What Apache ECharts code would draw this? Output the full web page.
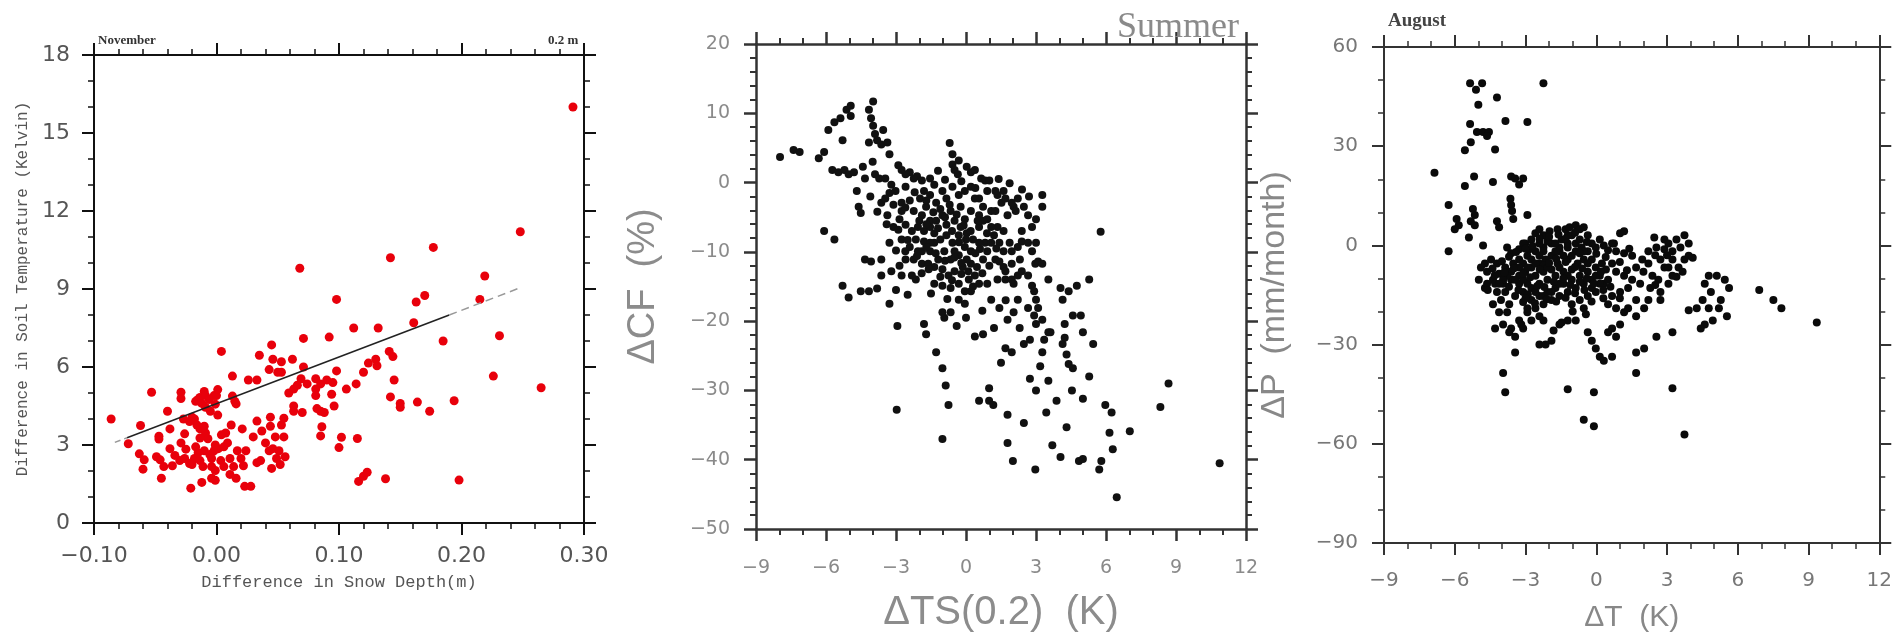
<!DOCTYPE html>
<html><head><meta charset="utf-8">
<script src="https://cdn.jsdelivr.net/npm/echarts@6/dist/echarts.min.js"></script>
<style>html,body{margin:0;padding:0;background:#fff}#c{width:1895px;height:638px}</style>
</head><body><div id="c"></div>
<script>
// Panel 1: November, snow depth difference (m) vs soil temperature difference (K)
const snowSoilPoints = [
[0.291,16.0],[0.248,11.2],[0.177,10.6],[0.142,10.2],[0.068,9.8],[0.219,9.5],[0.098,8.6],[0.215,8.6],[0.170,8.75],[0.163,8.5],
[0.161,7.7],[0.112,7.5],[0.132,7.5],[0.071,7.1],[0.092,7.15],[0.231,7.2],[0.185,7.0],[0.004,6.6],[0.045,6.85],[0.035,6.45],
[0.046,6.3],[0.053,6.2],[0.062,6.3],[0.043,5.9],[0.050,5.8],[0.053,5.8],[0.071,6.0],[0.098,5.85],[0.120,5.8],[0.124,6.15],
[0.130,6.3],[0.131,6.05],[0.141,6.6],[0.144,6.4],[0.226,5.65],[0.265,5.2],[0.013,5.65],[0.026,5.5],[0.033,5.5],[0.069,5.55],
[0.059,5.0],[0.063,5.15],[0.066,5.3],[0.074,5.35],[0.081,5.55],[0.085,5.35],[0.090,5.5],[0.095,5.4],[0.106,5.15],[0.114,5.35],
[0.145,5.5],[0.081,5.15],[0.081,4.9],[0.094,4.95],[0.096,4.5],[0.082,4.4],[0.085,4.3],[0.088,4.25],[0.063,4.5],[0.063,4.3],
[0.070,4.25],[0.142,4.85],[0.150,4.6],[0.150,4.45],[0.164,4.65],[0.174,4.3],[0.194,4.7],[0.086,3.7],[0.085,3.35],[0.102,3.3],
[0.100,2.9],[0.115,3.25],[0.116,1.6],[0.120,1.8],[0.123,1.95],[0.138,1.7],[0.198,1.65],
[-0.086,4.0],[-0.072,3.05],[-0.062,3.75],[-0.063,2.66],[-0.059,2.43],[-0.060,2.07],[-0.053,5.03],[-0.047,3.34],[-0.049,2.55],[-0.046,2.43],
[-0.045,1.72],[-0.043,2.17],[-0.040,4.30],[-0.038,3.62],[-0.038,2.86],[-0.036,2.20],[-0.029,5.03],[-0.029,4.79],[-0.027,4.0],[-0.029,3.08],
[-0.026,3.43],[-0.030,2.40],[-0.026,2.48],[-0.025,2.84],[-0.022,2.29],[-0.021,1.34],[-0.020,4.07],[-0.017,4.68],[-0.015,4.75],[-0.0135,4.83],
[-0.012,4.6],[-0.010,5.06],[-0.009,4.9],[-0.009,4.45],[-0.006,4.75],[-0.002,4.9],[0.000,4.9],[-0.001,4.57],[0.001,4.15],[-0.018,4.0],
[-0.016,3.77],[-0.0135,3.62],[-0.010,3.72],[-0.009,3.46],[-0.007,3.24],[-0.0135,3.27],[-0.010,2.78],[-0.015,2.70],[-0.017,2.93],[-0.018,2.48],
[-0.020,2.25],[-0.0135,2.40],[-0.011,2.17],[-0.0055,2.63],[-0.004,2.48],[-0.002,2.78],[-0.001,3.0],[0.0015,2.86],[-0.004,2.17],[-0.001,2.02],
[-0.004,1.72],[-0.012,1.56],[-0.001,1.64],[0.0035,2.40],[0.006,2.17],[0.0075,3.46],[0.004,3.39],[0.009,3.08],[0.006,2.93],[0.012,3.77],
[0.011,2.48],[0.014,2.17],[0.011,1.87],[0.016,1.72],[0.015,4.68],[0.013,4.88],[0.017,2.78],[0.021,3.62],[0.020,2.48],[0.022,2.20],
[0.023,1.41],[0.028,1.41],[0.024,2.78],[0.030,3.31],[0.033,3.92],[0.033,2.32],[0.036,2.40],[0.037,3.54],[0.040,3.08],[0.043,2.78],
[0.044,4.07],[0.044,3.72],[0.046,2.86],[0.045,2.10],[0.048,3.31],[0.049,2.48],[0.051,2.78],[0.052,2.25],[0.053,3.77],[0.055,4.03],
[0.055,3.31],[0.056,2.55],[0.001,5.13],[0.016,4.58],[-0.047,3.23],[-0.034,2.6],[-0.005,4.3],[-0.022,3.9]
];
// regression line (solid part and dashed ends)
const fitSolid = [[-0.073,3.28],[0.19,8.0]];
const fitDashLeft = [[-0.083,3.1],[-0.073,3.28]];
const fitDashRight = [[0.19,8.0],[0.248,9.05]];

// Panel 2: Summer, ΔTS(0.2) (K) vs ΔCF (%)
const tsCfPoints = [
[-7.97,3.7],[-7.39,4.7],[-7.13,4.4],[-6.31,3.5],[-6.08,4.4],[-5.90,7.6],[-5.64,8.7],[-5.38,9.3],[-5.12,10.5],[-4.94,11.1],
[-4.94,9.6],[-5.29,6.1],[-5.73,1.8],[-5.47,1.5],[-5.21,1.8],[-5.03,1.2],[-4.80,1.5],[-4.68,-1.2],[-4.60,-3.5],[-4.51,-4.4],
[-6.08,-7.0],[-5.64,-8.2],[-5.29,-14.9],[-5.03,-16.6],[-4.51,-15.7],[-4.16,-15.7],[-3.81,-15.3],[-4.33,-11.1],[-4.07,-11.4],[-3.98,11.7],
[-4.16,10.5],[-4.07,9.3],[-3.98,8.2],[-3.90,7.0],[-3.81,6.1],[-3.55,7.6],[-3.63,5.5],[-3.37,5.8],[-3.28,4.1],[-4.16,5.8],
[-3.90,1.2],[-3.72,0.6],[-3.28,-1.5],[-3.63,-2.9],[-3.37,-4.7],[-3.11,-6.4],[-3.28,-8.7],[-3.63,-11.1],[-3.63,-13.4],[-3.20,-12.8],
[-3.28,-17.5],[-2.94,-20.7],[-2.97,-32.8],[-2.76,1.8],[-2.41,1.5],[-2.59,-0.6],[-2.76,-2.9],[-2.41,-2.6],[-2.24,-4.1],[-2.85,-5.3],
[-2.59,-6.1],[-2.32,-7.0],[-2.76,-8.2],[-2.85,-12.0],[-2.76,-13.4],[-2.32,-13.4],[-2.15,-14.0],[-1.80,-20.4],[-1.71,-21.9],[-2.10,0.9],
[-1.89,0.3],[-1.80,-1.2],[-1.97,-2.3],[-1.89,-4.7],[-1.71,-3.5],[-1.54,-5.5],[-2.06,-6.4],[-1.80,-8.5],[-2.06,-9.9],[-1.54,-9.9],
[-1.89,-11.7],[-1.36,-8.7],[-1.28,-24.5],[-1.01,-26.8],[-0.87,-29.3],[-0.75,-32.1],[-1.01,-37.0],[-0.93,-19.5],[-1.01,-18.7],[-0.66,-18.7],
[-0.40,-20.7],[-0.70,5.7],[-0.58,2.6],[-0.49,1.8],[-0.35,1.2],[0.21,1.5],[0.65,0.6],[1.87,-0.1],[-0.31,-16.9],[-0.05,-17.5],
[0.21,-15.7],[0.38,-22.2],[0.73,-21.9],[0.56,-31.5],[0.99,-29.7],[0.99,-31.5],[1.17,-32.1],[1.78,-33.5],[1.78,-37.6],[2.01,-40.2],
[2.48,-34.7],[2.97,-41.4],[2.74,-28.3],[3.00,-30.0],[3.18,-26.5],[3.53,-28.6],[3.44,-33.2],[3.88,-31.5],[3.70,-37.9],[4.05,-39.6],
[4.31,-35.3],[4.84,-40.2],[5.01,-39.9],[4.54,-30.0],[5.01,-31.2],[5.28,-28.0],[5.71,-41.4],[5.80,-40.2],[5.97,-32.1],[6.24,-33.2],
[6.15,-36.1],[6.29,-38.5],[6.46,-45.4],[7.02,-35.9],[8.33,-32.4],[8.68,-29.0],[10.87,-40.5],[5.77,-7.1],[5.28,-14.0],[5.45,-23.3],
[5.01,-21.6],[4.92,-19.2],[4.58,-19.2],[4.23,-20.4],[4.14,-23.3],[4.31,-24.8],[4.40,-26.2],[4.58,-26.8],[4.23,-22.4],[4.05,-15.2],
[4.14,-16.9],[4.40,-15.7],[4.75,-14.9],[3.53,-14.0],[3.62,-21.6],[3.35,-22.7],[3.27,-24.5],[3.00,-20.4],[2.92,-19.2],[2.74,-22.7],
[2.48,-23.3],[2.66,-18.1],[3.00,-16.9],[2.83,-14.9],[2.97,-11.7],[3.00,-8.7],[3.00,-5.3],[3.27,-1.8],[3.27,-3.5],[2.39,-8.5],
[2.22,-9.3],[2.31,-11.1],[1.96,-11.7],[2.04,-14.6],[2.22,-16.9],[2.04,-18.7],[1.78,-19.8],[1.69,-23.9],[1.96,-24.5],[1.43,-18.1],
[1.08,-16.9],[0.91,-14.6],[1.35,-14.0],[1.69,-14.0],[1.61,-12.2],[1.26,-11.1],[1.78,-4.7],[2.04,-3.5],[2.22,-2.3],[1.61,-1.2],
[1.35,-1.8],[1.08,-4.1],[0.91,-1.2],[0.56,-2.3],[0.56,-6.4],[0.82,-8.7],[0.21,-9.9],[0.56,-14.6],
[-1.54,-1.8],[-1.28,-2.9],[-1.01,-1.2],[-0.84,-2.3],[-0.58,-0.6],[-0.31,-1.8],[-0.05,-1.2],[0.21,-0.6],[0.38,-2.3],[-0.23,-3.5],
[-0.66,-4.1],[-1.01,-4.7],[-1.28,-5.5],[-0.84,-6.1],[-0.49,-5.5],[-0.05,-5.3],[0.21,-4.1],[0.56,-4.7],[0.73,-5.5],[-1.36,-7.3],
[-1.10,-8.2],[-0.84,-7.6],[-0.58,-8.7],[-0.31,-7.6],[0.03,-7.3],[0.30,-8.2],[0.56,-8.7],[-0.93,-9.9],[-0.66,-11.1],[-0.31,-10.5],
[-0.05,-9.3],[0.21,-11.7],[0.47,-12.2],[0.73,-11.1],[-1.19,-11.1],[-1.36,-12.2],[-1.01,-12.5],[-0.75,-13.4],[-0.49,-12.8],[-0.14,-12.2],
[0.12,-14.0],[0.38,-13.4],[-1.80,-7.0],[-2.15,-8.2],[-2.41,-9.3],[-2.59,-11.1],[-2.24,-11.1],[-1.62,-11.7],[-1.36,-14.6],[-1.01,-14.9],
[-0.66,-15.2],[-0.31,-14.6],[-0.05,-15.7],[-1.54,-6.4],[-0.49,-9.9],[-1.54,-8.7],[-1.89,-9.9],[-0.23,-6.4],[0.03,-11.1],[0.91,-9.9],
[1.08,-8.7],[1.43,-8.7],[1.61,-7.0],[1.35,-6.4],[1.08,-6.4],[0.91,-5.3],[1.26,-4.1],[1.52,-2.9],[0.73,-3.5],
[-0.58,4.1],[-0.31,3.2],[0.03,2.3],[0.38,1.8],[0.82,0.3],[-2.59,1.2],[-2.24,0.6],[-1.54,0.6],[-1.36,-0.3],[-3.46,0.6],
[-3.20,-0.3],[-3.02,-1.2],[-3.46,-2.3],[-3.11,-3.2],[-2.76,-4.1],[-4.33,0.6],[-4.42,2.3],
[1.00,0.3],[1.26,-1.2],[1.69,-2.3],[1.96,-2.9],[2.13,-4.1],[2.48,-3.5],[2.66,-4.7],[2.83,-6.4],[2.39,-7.0],[2.66,-8.7],
[2.83,-9.9],[3.09,-11.4],[3.27,-11.7],[1.87,-8.7],[1.96,-9.9],[1.61,-9.9],[1.43,-11.4],[1.69,-12.8],[1.96,-14.0],[2.22,-13.4],
[2.39,-12.8],[2.66,-13.4],[2.92,-15.7],[3.09,-18.1],[3.27,-19.8],[3.53,-21.6],
[-2.0,-5.5],[-1.7,-6.0],[-1.2,-6.6],[-0.9,-5.0],[-0.6,-7.0],[-0.3,-8.6],[0.0,-8.2],[0.2,-7.0],[-0.1,-6.2],[-0.4,-4.6],
[-0.7,-3.2],[-1.1,-3.8],[-1.4,-4.3],[-1.7,-2.6],[-2.2,-1.4],[-2.6,-3.6],[-2.9,-6.8],[-2.5,-8.3],[-2.1,-10.6],[-1.7,-9.3],
[-1.3,-10.2],[-0.9,-11.3],[-0.5,-10.8],[-0.2,-11.6],[0.1,-12.8],[0.4,-10.2],[0.6,-9.6],[0.9,-7.3],[1.2,-7.6],[0.5,-5.5],
[-1.6,-12.5],[-1.9,-13.1],[-1.1,-13.6],[-0.6,-14.1],[-0.2,-13.2],[0.3,-15.0],[0.7,-13.1],[1.0,-12.0],[1.3,-9.5],[-3.0,-9.8],
[-2.6,-9.9],[-3.4,-6.0],[-3.8,-4.2],[-4.1,-2.0],[-4.0,3.0],[-2.9,2.5],[-1.2,1.7],[-0.9,0.4],[-0.2,0.2],[0.4,-0.8],
[1.4,0.5],[2.4,-1.0],[2.7,-2.0],[-3.0,-15.5],[-2.5,-16.2],[-1.5,-16.0],[-0.8,-16.8],[0.0,-19.5],[0.7,-18.5],[1.2,-21.0],
[1.7,-17.0],[2.3,-21.0],[1.5,-26.0]
];

// Panel 3: August, ΔT (K) vs ΔP (mm/month)
const tPrecipPoints = [
[-5.35,49.0],[-4.84,49.0],[-5.10,47.1],[-5.00,42.5],[-4.21,44.7],[-2.24,49.0],[-3.85,37.6],[-2.92,37.3],[-5.35,36.7],[-5.06,34.3],
[-4.80,34.3],[-4.55,34.3],[-4.63,33.1],[-5.32,31.2],[-5.57,28.8],[-4.29,29.0],[-6.86,22.0],[-5.18,20.8],[-4.38,19.2],[-5.57,18.0],
[-3.61,20.8],[-3.44,20.2],[-3.10,20.2],[-3.27,18.4],[-6.26,12.2],[-5.23,11.0],[-5.15,9.2],[-5.92,8.0],[-5.83,6.1],[-6.00,4.9],
[-5.32,7.3],[-5.15,6.1],[-4.21,7.3],[-4.12,5.5],[-3.64,14.1],[-3.61,12.2],[-3.57,10.4],[-3.52,8.0],[-2.92,9.2],[-5.40,2.4],
[-6.26,-1.8],[-4.80,0.0],
[-3.78,-0.6],[-3.61,-2.4],[-3.27,-1.2],[-3.01,0.6],[-2.75,1.8],[-2.58,3.7],[-2.41,4.9],[-2.24,3.1],[-1.98,4.3],[-1.64,4.9],
[-1.30,4.9],[-1.13,5.5],[-0.87,6.1],[-0.70,4.9],[-1.21,3.1],[-1.47,1.8],[-1.90,0.6],[-2.24,-0.6],[-2.58,-1.8],[-2.92,-3.1],
[-3.27,-4.3],[-3.52,-5.5],[-3.86,-6.7],[-4.21,-5.5],[-4.46,-4.3],[-4.72,-5.5],[-4.89,-6.7],[-4.63,-8.0],[-4.98,-10.4],[-4.72,-12.9],
[-4.38,-10.4],[-4.12,-8.6],[-3.95,-11.6],[-3.61,-10.4],[-3.27,-9.2],[-3.01,-8.0],[-2.75,-6.7],[-2.41,-5.5],[-2.15,-4.3],[-1.90,-3.1],
[-1.56,-1.8],[-1.21,-0.6],[-0.87,0.6],[-0.62,-0.6],[-0.36,-1.8],[-0.19,-4.3],[-0.53,-4.3],[-0.79,-5.5],[-1.04,-7.3],[-1.39,-8.0],
[-1.73,-9.2],[-2.07,-10.4],[-2.41,-11.6],[-2.75,-12.9],[-3.10,-14.1],[-3.44,-15.3],[-3.69,-17.8],[-3.78,-20.2],[-3.95,-23.9],[-3.61,-25.1],
[-3.44,-27.6],[-3.44,-32.4],[-3.27,-22.7],[-2.92,-20.2],[-2.58,-19.0],[-2.24,-17.8],[-1.90,-16.5],[-1.56,-15.3],[-1.21,-14.1],[-0.87,-12.9],
[-0.53,-11.6],[-0.19,-10.4],[0.15,-9.2],[0.41,-7.3],[0.32,-11.6],[-0.02,-14.1],[-0.36,-15.3],[-0.70,-16.5],[-1.04,-17.8],[-0.53,-19.0],
[-0.87,-22.7],[-1.21,-22.7],[-1.56,-23.9],[-2.24,-22.7],[-2.41,-30.0],[-1.90,-28.8],[-0.44,-20.8],[-0.36,-26.3],[-0.19,-28.8],[-0.02,-31.2],
[0.15,-33.7],[0.32,-34.9],[0.67,-33.7],[0.50,-26.3],[0.67,-25.1],[0.84,-27.6],[1.01,-23.9],[1.18,-20.2],[0.84,-19.0],[0.50,-17.8],
[0.67,-15.3],[1.01,-14.1],[1.35,-12.9],[1.52,-10.4],[1.18,-9.2],[0.84,-8.0],[0.67,-5.5],[0.84,-1.8],[0.75,0.6],[1.18,-2.4],
[1.52,-3.1],[1.69,-6.7],[1.86,-11.6],[1.69,-16.5],[1.35,-19.0],[1.69,-21.4],[2.03,-19.0],[2.21,-16.5],[2.29,-12.9],[2.38,-9.2],
[2.21,-5.5],[1.95,-4.3],[2.21,-1.8],[2.55,-0.6],[2.89,-1.2],[2.72,-4.3],[2.89,-6.7],[2.63,-10.4],[2.72,-14.1],[2.72,-16.5],
[3.06,-11.6],[3.23,-9.2],[3.06,-6.7],[3.23,-4.3],[3.49,-6.7],[3.66,-8.0],[3.74,-4.3],[3.92,-3.1],[3.57,-0.6],[3.23,-1.8],
[3.74,3.1],[3.92,0.6],[4.09,-3.7],[4.77,-9.2],[4.60,-11.6],[5.11,-9.2],[5.45,-10.4],[5.63,-12.9],[5.28,-16.5],[5.20,-19.0],
[5.54,-21.4],[4.94,-22.7],[4.60,-23.9],[4.43,-25.1],[4.77,-19.0],[4.51,-16.5],[4.26,-19.0],[3.92,-19.6],[4.86,-14.1],[6.91,-13.5],
[7.51,-16.5],[7.85,-19.0],[9.35,-23.3],[2.55,-27.6],[3.23,-26.3],[1.69,-32.4],[2.03,-31.2],[1.69,-38.6],[3.23,-43.2],[3.74,-57.2],
[-1.21,-43.5],[-0.10,-44.4],[-0.53,-52.7],[-0.10,-54.7],[-3.95,-38.6],[-3.86,-44.4],[-3.69,-26.3],[-3.18,-23.9],[-2.15,-30.0],[-1.81,-25.7],
[-1.47,-23.3],[-2.41,-21.4],[-2.75,-22.7],[-3.10,-25.1],[-2.92,-19.0],[-4.29,-25.1],[-4.04,-16.5],[-4.12,-20.2],[-4.21,-14.1],[-3.86,-14.1],
[-4.38,-17.8],[-4.63,-11.6],[-4.29,-11.6],[-3.27,-11.6],[-2.92,-11.6],[-2.58,-9.2],[-2.24,-8.0],[-1.90,-7.3],[-1.64,-5.5],[-1.21,-4.3],
[-0.87,-1.8],[-0.53,-1.8],[-0.02,-0.6],[0.32,0.0],[0.67,0.6],[1.01,3.7],[1.18,4.3],[0.15,1.8],[-0.19,0.6],[-0.36,3.1],
[-0.53,5.5],[-0.70,1.8],[-1.04,3.1],[-1.21,0.6],[-1.56,-0.6],[-1.73,0.6],[-2.24,-1.8],[-2.41,-3.1],[-2.75,-4.3],[-3.10,-5.5],
[-3.27,-6.7],[-3.61,-8.0],[-3.78,-9.2],[-3.95,-10.4],[-4.12,-11.6],[2.89,1.8],[3.06,0.6],[3.40,1.8],[2.46,2.4],
[-3.10,0.6],[-2.84,-1.2],[-2.41,0.6],[-2.07,1.2],[-1.73,-1.8],[-1.39,-3.1],[-1.04,-3.1],[-0.70,-2.4],[-0.36,-5.5],[-0.02,-6.7],
[0.24,-5.5],[-0.02,-9.2],[-0.36,-8.0],[-0.70,-9.2],[-1.04,-10.4],[-1.39,-11.6],[-1.73,-12.9],[-2.07,-14.1],[-2.41,-15.3],[-2.75,-16.5],
[-3.10,-17.1],[-2.24,-6.1],[-2.58,-5.5],[-2.92,-6.7],[-3.44,-10.4],[-3.10,-10.4],[-2.07,-6.7],[-1.56,-6.7],[-1.21,-9.2],[-1.56,-11.6],
[-1.90,-14.1],[-2.24,-15.3],[-2.58,-14.1],[-0.19,-12.9],[0.15,-11.6],[0.50,-10.4],
[-4.4,-7.0],[-4.0,-4.8],[-3.7,-3.4],[-3.4,-2.0],[-3.0,-1.0],[-2.7,-0.2],[-2.4,2.0],[-2.0,2.6],[-1.6,3.3],[-1.3,2.0],
[-0.9,3.8],[-0.4,1.0],[0.0,-2.5],[0.4,-3.5],[0.5,-1.5],[0.2,-8.0],[-0.6,-7.0],[-0.9,-6.5],[-1.3,-5.0],[-1.7,-4.0],
[-2.0,-5.3],[-2.4,-7.3],[-2.8,-9.6],[-3.1,-8.6],[-3.5,-7.0],[-3.9,-8.2],[-4.3,-9.0],[-4.6,-13.5],[-3.7,-12.5],[-3.3,-13.5],
[-2.9,-14.8],[-2.5,-12.3],[-2.2,-12.6],[-1.8,-11.0],[-1.4,-10.0],[-1.1,-12.0],[-0.7,-11.0],[-0.4,-10.0],[-0.1,-11.5],[0.3,-13.5],
[0.6,-12.5],[-0.5,-13.5],[-0.9,-14.5],[-1.3,-15.8],[-1.7,-17.0],[-2.1,-16.3],[-2.6,-17.5],[-3.0,-16.0],[-1.0,-20.0],[-0.2,-17.0],
[0.3,-16.0],[1.0,-16.0],[1.3,-7.5],[1.0,-5.0],[1.4,-1.0],[2.0,-8.0],[2.5,-3.0],[3.0,-3.0],[3.4,-9.5],[2.5,-12.0]
];

const minus = v => String(v).replace('-', '\u2212');

function axisPair(gi, opt) {
  const lineColor = opt.lineColor, lw = opt.lineWidth;
  const common = {
    gridIndex: gi, type: 'value', min: opt.min, max: opt.max, interval: opt.interval,
    splitLine: {show: false},
    axisLine: {show: true, onZero: false, lineStyle: {color: lineColor, width: lw}},
    axisTick: {show: true, inside: false, length: opt.tickLen, lineStyle: {color: lineColor, width: lw}},
    minorTick: {show: true, splitNumber: opt.minor, length: opt.minorLen, lineStyle: {color: lineColor, width: Math.max(1, lw - 0.5)}},
  };
  const main = Object.assign({}, common, {
    position: opt.mainPos,
    name: opt.name, nameLocation: 'middle', nameGap: opt.nameGap,
    nameTextStyle: opt.nameStyle,
    axisLabel: {show: true, margin: opt.labelMargin, color: opt.labelColor, fontSize: opt.labelSize,
      fontFamily: opt.labelFont, formatter: opt.fmt},
  });
  const twin = Object.assign({}, common, {position: opt.twinPos, axisLabel: {show: false}});
  return [main, twin];
}

const xAxes = [], yAxes = [];
// Panel 1
xAxes.push(...axisPair(0, {min: -0.1, max: 0.3, interval: 0.1, minor: 5, mainPos: 'bottom', twinPos: 'top',
  lineColor: '#111', lineWidth: 2, tickLen: 12, minorLen: 6,
  name: 'Difference in Snow Depth(m)', nameGap: 51,
  nameStyle: {color: '#555', fontSize: 17, fontFamily: 'Liberation Mono'},
  labelMargin: 22, labelColor: '#555', labelSize: 22, labelFont: 'DejaVu Sans',
  fmt: v => minus(v.toFixed(2))}));
yAxes.push(...axisPair(0, {min: 0, max: 18, interval: 3, minor: 3, mainPos: 'left', twinPos: 'right',
  lineColor: '#111', lineWidth: 2, tickLen: 12, minorLen: 6,
  name: 'Difference in Soil Temperature (Kelvin)', nameGap: 63,
  nameStyle: {color: '#555', fontSize: 16, fontFamily: 'Liberation Mono'},
  labelMargin: 24, labelColor: '#555', labelSize: 22, labelFont: 'DejaVu Sans',
  fmt: v => minus(v)}));
// Panel 2
xAxes.push(...axisPair(1, {min: -9, max: 12, interval: 3, minor: 3, mainPos: 'bottom', twinPos: 'top',
  lineColor: '#333', lineWidth: 2.5, tickLen: 12, minorLen: 6,
  name: '\u0394TS(0.2)  (K)', nameGap: 64,
  nameStyle: {color: '#8c8c8c', fontSize: 40, fontFamily: 'Liberation Sans'},
  labelMargin: 30, labelColor: '#8a8a8a', labelSize: 19, labelFont: 'DejaVu Sans',
  fmt: v => minus(v)}));
yAxes.push(...axisPair(1, {min: -50, max: 20, interval: 10, minor: 5, mainPos: 'left', twinPos: 'right',
  lineColor: '#333', lineWidth: 2.5, tickLen: 12, minorLen: 6,
  name: '\u0394CF  (%)', nameGap: 93,
  nameStyle: {color: '#8c8c8c', fontSize: 38, fontFamily: 'Liberation Sans'},
  labelMargin: 26, labelColor: '#8a8a8a', labelSize: 19, labelFont: 'DejaVu Sans',
  fmt: v => minus(v)}));
// Panel 3
xAxes.push(...axisPair(2, {min: -9, max: 12, interval: 3, minor: 3, mainPos: 'bottom', twinPos: 'top',
  lineColor: '#333', lineWidth: 2, tickLen: 12, minorLen: 6,
  name: '\u0394T  (K)', nameGap: 60,
  nameStyle: {color: '#888', fontSize: 30, fontFamily: 'Liberation Sans'},
  labelMargin: 28, labelColor: '#777', labelSize: 20, labelFont: 'DejaVu Sans',
  fmt: v => minus(v)}));
yAxes.push(...axisPair(2, {min: -90, max: 60, interval: 30, minor: 3, mainPos: 'left', twinPos: 'right',
  lineColor: '#333', lineWidth: 2, tickLen: 12, minorLen: 6,
  name: '\u0394P  (mm/month)', nameGap: 92,
  nameStyle: {color: '#888', fontSize: 34, fontFamily: 'Liberation Sans'},
  labelMargin: 26, labelColor: '#777', labelSize: 20, labelFont: 'DejaVu Sans',
  fmt: v => minus(v)}));

const chart = echarts.init(document.getElementById('c'));
chart.setOption({
  animation: false,
  backgroundColor: '#ffffff',
  grid: [
    {left: 94, top: 55, width: 490, height: 468},
    {left: 756, top: 44, width: 490, height: 490},
    {left: 1384, top: 47, width: 497, height: 496}
  ],
  title: [
    {text: 'November', left: 93, top: 29, textStyle: {fontSize: 13, fontWeight: 'bold', color: '#333', fontFamily: 'Liberation Serif'}},
    {text: '0.2 m', left: 543, top: 29, textStyle: {fontSize: 13, fontWeight: 'bold', color: '#333', fontFamily: 'Liberation Serif'}},
    {text: 'Summer', left: 1112, top: 5, textStyle: {fontSize: 36, fontWeight: 'normal', color: '#8a8a8a', fontFamily: 'Liberation Serif'}},
    {text: 'August', left: 1383, top: 7, textStyle: {fontSize: 19, fontWeight: 'bold', color: '#444', fontFamily: 'Liberation Serif'}}
  ],
  xAxis: xAxes,
  yAxis: yAxes,
  series: [
    {type: 'scatter', xAxisIndex: 0, yAxisIndex: 0, data: snowSoilPoints, symbol: 'circle', symbolSize: 9,
      itemStyle: {color: '#e8000b', opacity: 1}},
    {type: 'line', xAxisIndex: 0, yAxisIndex: 0, data: fitSolid, showSymbol: false, lineStyle: {color: '#222', width: 1.5}},
    {type: 'line', xAxisIndex: 0, yAxisIndex: 0, data: fitDashLeft, showSymbol: false, lineStyle: {color: '#999', width: 1.5, type: [6, 4]}},
    {type: 'line', xAxisIndex: 0, yAxisIndex: 0, data: fitDashRight, showSymbol: false, lineStyle: {color: '#999', width: 1.5, type: [8, 5]}},
    {type: 'scatter', xAxisIndex: 2, yAxisIndex: 2, data: tsCfPoints, symbol: 'circle', symbolSize: 8,
      itemStyle: {color: '#111', opacity: 1}},
    {type: 'scatter', xAxisIndex: 4, yAxisIndex: 4, data: tPrecipPoints, symbol: 'circle', symbolSize: 8,
      itemStyle: {color: '#0a0a0a', opacity: 1}}
  ]
});
</script></body></html>
